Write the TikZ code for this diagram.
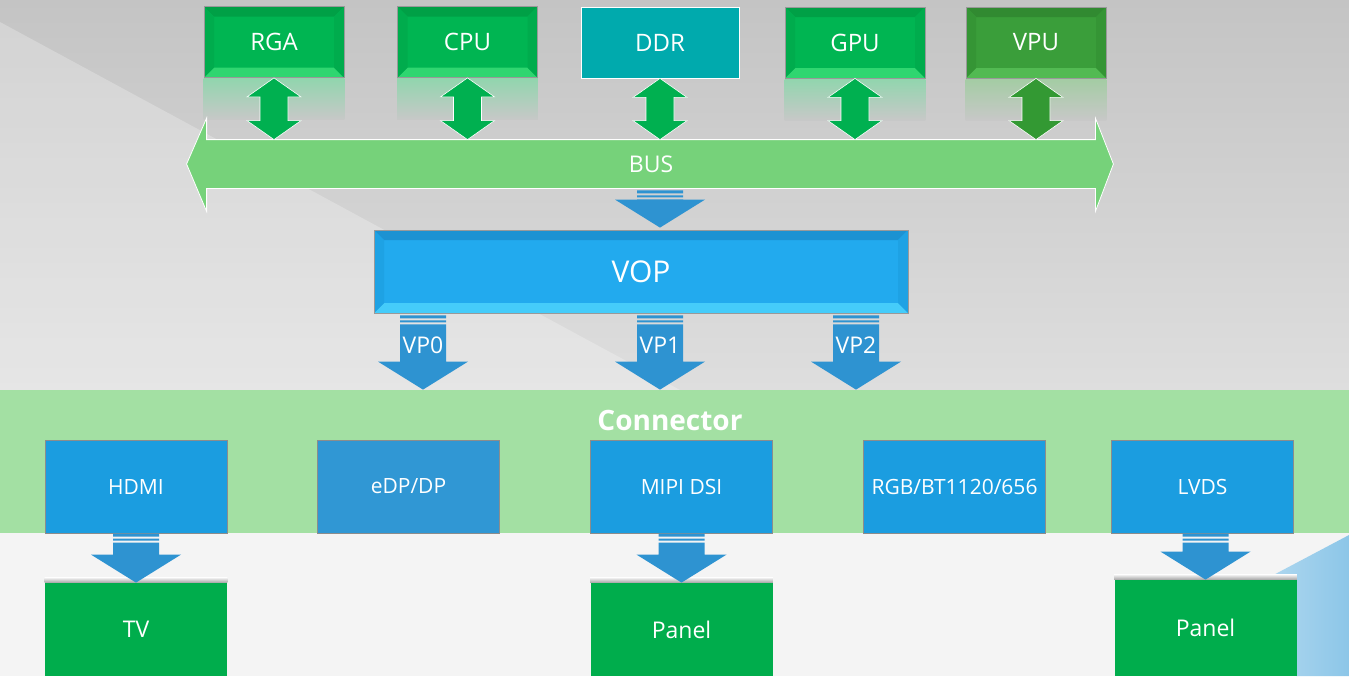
\documentclass[tikz,border=0pt]{standalone}
\usepackage{fontspec}
\setmainfont{Open Sans}
\usetikzlibrary{calc}

\definecolor{bgtop}{HTML}{C4C4C4}
\definecolor{bgmid}{HTML}{DEDEDE}
\definecolor{bglow}{HTML}{F4F4F4}
\definecolor{cornerblue}{HTML}{8CC6E8}
\definecolor{boxgreen}{HTML}{00B552}
\definecolor{boxgreendk}{HTML}{00A046}
\definecolor{boxgreenlt}{HTML}{2FD670}
\definecolor{boxgreenmd}{HTML}{00AC4D}
\definecolor{vpugreen}{HTML}{3A9E3A}
\definecolor{vpugreendk}{HTML}{318A31}
\definecolor{vpugreenlt}{HTML}{52BA52}
\definecolor{vpugreenmd}{HTML}{359535}
\definecolor{ddrteal}{HTML}{00AAAD}
\definecolor{arrgreen}{HTML}{00B050}
\definecolor{vpuarr}{HTML}{339933}
\definecolor{reflgreen}{HTML}{92D5AE}
\definecolor{reflvpu}{HTML}{A4CCA4}
\definecolor{busgreen}{HTML}{76D27A}
\definecolor{vopface}{HTML}{22AAEE}
\definecolor{vopdk}{HTML}{1C92D2}
\definecolor{voplt}{HTML}{45CCFA}
\definecolor{vopmd}{HTML}{1EA2E4}
\definecolor{arrblue}{HTML}{2E93D1}
\definecolor{bandgreen}{HTML}{A3E0A3}
\definecolor{portblue}{HTML}{1B9DE0}
\definecolor{portblue2}{HTML}{3097D4}
\definecolor{outgreen}{HTML}{00AD4C}

\tikzset{
  bevel/.style n args={3}{path picture={
      \coordinate (bnw) at (path picture bounding box.north west);
      \coordinate (bne) at (path picture bounding box.north east);
      \coordinate (bsw) at (path picture bounding box.south west);
      \coordinate (bse) at (path picture bounding box.south east);
      \fill[#1] (bnw) -- (bne) -- ([shift={(-5pt,-5pt)}]bne) -- ([shift={(5pt,-5pt)}]bnw) -- cycle;
      \fill[#2] (bsw) -- (bse) -- ([shift={(-5pt,5pt)}]bse) -- ([shift={(5pt,5pt)}]bsw) -- cycle;
      \fill[#3] (bnw) -- ([shift={(5pt,-5pt)}]bnw) -- ([shift={(5pt,5pt)}]bsw) -- (bsw) -- cycle;
      \fill[#3] (bne) -- ([shift={(-5pt,-5pt)}]bne) -- ([shift={(-5pt,5pt)}]bse) -- (bse) -- cycle;
    }},
  topbox/.style={minimum width=70pt, minimum height=35.5pt, inner sep=0pt,
    text=white, font=\fontsize{12}{14}\selectfont, draw=black!40, line width=.4pt},
  greenbox/.style={topbox, fill=boxgreen, bevel={boxgreendk}{boxgreenlt}{boxgreenmd}},
  vopbox/.style={minimum width=267pt, minimum height=41.5pt, inner sep=0pt,
    fill=vopface, draw=black!40, line width=.4pt, text=white,
    font=\fontsize{15}{18}\selectfont, bevel={vopdk}{voplt}{vopmd}},
  portbox/.style={minimum width=91pt, minimum height=46.5pt, inner sep=0pt,
    fill=portblue, draw=black!45, line width=.5pt, text=white,
    font=\fontsize{10.5}{12}\selectfont},
  outbox/.style={minimum width=91pt, minimum height=46.5pt, inner sep=0pt,
    fill=outgreen, text=white, font=\fontsize{11.5}{13}\selectfont},
  smalltext/.style={text=white, font=\fontsize{11.5}{13}\selectfont, inner sep=0pt},
  % vertical double block arrow
  updn/.style={to path={let \p1=(\tikztostart), \p2=(\tikztotarget) in
      (\x1,\y1) -- (\x1+13.5pt,\y1-9.5pt) -- (\x1+7pt,\y1-9.5pt) -- (\x1+7pt,\y2+9.5pt)
      -- (\x1+13.5pt,\y2+9.5pt) -- (\x1,\y2) -- (\x1-13.5pt,\y2+9.5pt) -- (\x1-7pt,\y2+9.5pt)
      -- (\x1-7pt,\y1-9.5pt) -- (\x1-13.5pt,\y1-9.5pt) -- cycle}},
  % downward block arrow with striped top
  dnarr/.style={fill=arrblue, to path={let \p1=(\tikztostart), \p2=(\tikztotarget) in
      (\x1-11.5pt,\y1) rectangle (\x1+11.5pt,\y1-1.5pt)
      (\x1-11.5pt,\y1-2.5pt) rectangle (\x1+11.5pt,\y1-3.5pt)
      (\x1-11.5pt,\y1-4.5pt) -- (\x1+11.5pt,\y1-4.5pt) -- (\x1+11.5pt,\y2+14pt)
      -- (\x1+22.5pt,\y2+14pt) -- (\x1,\y2) -- (\x1-22.5pt,\y2+14pt)
      -- (\x1-11.5pt,\y2+14pt) -- cycle}}
}

\begin{document}
\begin{tikzpicture}[x=0.5pt,y=-0.5pt]
  \useasboundingbox (0,0) rectangle (1349,676);

  % background
  \fill[bglow] (0,0) rectangle (1349,676);
  \shade[top color=bgtop, bottom color=bgmid] (0,0) rectangle (1349,390);
  \fill[white, opacity=.25] (0,22) -- (680,390) -- (0,390) -- cycle;
  \shade[left color=cornerblue!55, right color=cornerblue] (1349,535) -- (1230,598) -- (1296,676) -- (1349,676) -- cycle;

  % masters on the bus
  \node[greenbox] (rga) at (274,42) {RGA};
  \node[greenbox] (cpu) at (467.5,42) {CPU};
  \node[topbox, minimum width=79pt, fill=ddrteal, draw=white!70] (ddr) at (660,42.5) {DDR};
  \node[greenbox] (gpu) at (855,42.5) {GPU};
  \node[topbox, fill=vpugreen, bevel={vpugreendk}{vpugreenlt}{vpugreenmd}] (vpu) at (1036,42.5) {VPU};

  % reflections
  \foreach \b in {rga,cpu,gpu}
    \shade[top color=reflgreen, bottom color=bgtop!85!bgmid] ([yshift=-.5pt]\b.south west) rectangle ([yshift=-21pt]\b.south east);
  \shade[top color=reflvpu, bottom color=bgtop!85!bgmid] ([yshift=-.5pt]vpu.south west) rectangle ([yshift=-21pt]vpu.south east);

  % bus
  \node[minimum width=444pt, minimum height=24pt, inner sep=0pt] (bus) at (651,164) {};
  \filldraw[fill=busgreen, draw=white!75, line width=.4pt]
    (bus.north west) -- (bus.north east) -- ([yshift=10.75pt]bus.north east) -- ([xshift=9pt]bus.east)
    -- ([yshift=-11.5pt]bus.south east) -- (bus.south east) -- (bus.south west)
    -- ([yshift=-11.5pt]bus.south west) -- ([xshift=-10pt]bus.west) -- ([yshift=10.75pt]bus.north west) -- cycle;
  \node[smalltext] (bustext) at (bus.center) {BUS};

  \foreach \b in {rga,cpu,ddr,gpu}
    \filldraw[updn, fill=arrgreen, draw=white!70, line width=.3pt] (\b.south) to (\b.south |- bus.north);
  \filldraw[updn, fill=vpuarr, draw=white!70, line width=.3pt] (vpu.south) to (vpu.south |- bus.north);

  % VOP
  \node[vopbox] (vop) at (641,271.5) {VOP};
  \path[dnarr] ([xshift=4.5pt,yshift=-1pt]bus.south) to ([xshift=4.5pt,yshift=1pt]bus.south |- vop.north);

  % connector band
  \node[fill=bandgreen, minimum width=674.5pt, minimum height=71.5pt, inner sep=0pt] (band) at (674.5,461.5) {};
  \node[text=white, font=\bfseries\fontsize{14}{16}\selectfont, inner sep=0pt] (conntitle) at (670,420) {Connector};

  % video ports
  \path[dnarr] ([xshift=-109pt,yshift=-1pt]vop.south) to ([xshift=-109pt]vop.south |- band.north);
  \path[dnarr] ([xshift=9.5pt,yshift=-1pt]vop.south) to ([xshift=9.5pt]vop.south |- band.north);
  \path[dnarr] ([xshift=107.5pt,yshift=-1pt]vop.south) to ([xshift=107.5pt]vop.south |- band.north);
  \node[smalltext] (vp0) at ([xshift=-109pt,yshift=-16pt]vop.south) {VP0};
  \node[smalltext] (vp1) at ([xshift=9.5pt,yshift=-16pt]vop.south) {VP1};
  \node[smalltext] (vp2) at ([xshift=107.5pt,yshift=-16pt]vop.south) {VP2};

  % interfaces
  \node[portbox] (hdmi) at (136,486.5) {HDMI};
  \node[portbox, fill=portblue2] (edp) at (408.5,486.5) {eDP/DP};
  \node[portbox] (mipi) at (681.5,486.5) {MIPI DSI};
  \node[portbox] (rgb) at (954.5,486.5) {RGB/BT1120/656};
  \node[portbox] (lvds) at (1202.5,486.5) {LVDS};

  % displays
  \node[outbox] (tv) at (136,629.5) {TV};
  \node[outbox] (panela) at (681.5,629.5) {Panel};
  \node[outbox, minimum height=48pt] (panelb) at (1205.5,628) {Panel};
  \foreach \b in {tv,panela,panelb}
    \shade[top color=bglow, bottom color=black!35] ([yshift=2.5pt]\b.north west) rectangle (\b.north east);

  \path[dnarr] (hdmi.south) to (tv.north);
  \path[dnarr] (mipi.south) to (panela.north);
  \path[dnarr] (lvds.south -| panelb.north) to (panelb.north);
\end{tikzpicture}
\end{document}
